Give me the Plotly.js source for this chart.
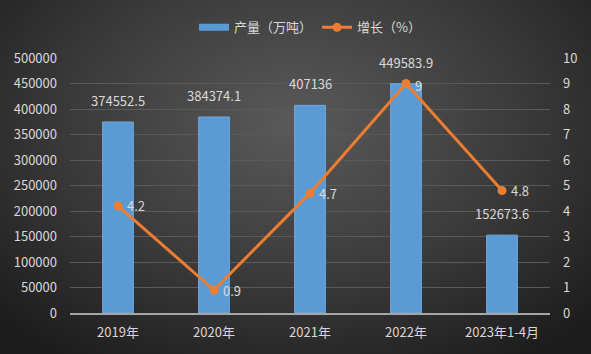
<!DOCTYPE html>
<html><head><meta charset="utf-8">
<script src="https://cdn.plot.ly/plotly-3.0.1.min.js"></script>
<style>
html,body{margin:0;padding:0;}
#c{width:591px;height:354px;background:radial-gradient(ellipse 70% 80% at 50% 35%, #5a5a5a 0%, #3a3a3a 55%, #1c1c1c 100%);}
</style></head>
<body><div id="c"></div>
<script>
const categories = ['2019年','2020年','2021年','2022年','2023年1-4月'];
const output = [374552.5, 384374.1, 407136, 449583.9, 152673.6];
const growth = [4.2, 0.9, 4.7, 9, 4.8];
const outputLabels = ['374552.5','384374.1','407136','449583.9','152673.6'];
const growthLabels = ['4.2','0.9','4.7','9','4.8'];
const leftTicks = [0,50000,100000,150000,200000,250000,300000,350000,400000,450000,500000];
const rightTicks = [0,1,2,3,4,5,6,7,8,9,10];

const font = "'Noto Sans CJK SC', 'Noto Sans', sans-serif";
const txt = '#d9d9d9';
const blue = '#5b9bd5';

const traces = [
  {type:'bar', name:'产量（万吨）', x:categories, y:output, width:0.32,
   marker:{color:blue, line:{color:'#6fa8dc', width:1}}, showlegend:false, hoverinfo:'skip'},
  {type:'scatter', mode:'lines', name:'产量（万吨）', x:[null], y:[null],
   line:{color:blue, width:7}, showlegend:true},
  {type:'scatter', mode:'lines+markers', name:'增长（%）', x:categories, y:growth, yaxis:'y2',
   line:{color:'#ed7d31', width:3}, marker:{color:'#ed7d31', size:9}}
];
const annotations = categories.map((c,i)=>({
  x:c, y:output[i], xref:'x', yref:'y', text:outputLabels[i], showarrow:false,
  yanchor:'bottom', yshift:10, font:{size:13, color:txt, family:font}
})).concat(categories.map((c,i)=>({
  x:c, y:growth[i], xref:'x', yref:'y2', text:growthLabels[i], showarrow:false,
  xanchor:'left', yanchor:'middle', xshift:7, yshift:i===3?-2:0, font:{size:13, color:txt, family:font}
})));
const layout = {
  width:591, height:354,
  paper_bgcolor:'rgba(0,0,0,0)', plot_bgcolor:'rgba(0,0,0,0)',
  margin:{l:70, r:41, t:55, b:41},
  font:{family:font, color:txt, size:13},
  showlegend:true,
  legend:{orientation:'h', x:0.5, xanchor:'center', y:1.12, yanchor:'middle',
    font:{size:13, color:txt, family:font}, bgcolor:'rgba(0,0,0,0)', traceorder:'normal'},
  annotations:annotations,
  xaxis:{type:'category', tickfont:{size:13, color:txt}, showgrid:false,
    showline:true, linecolor:'#a6a6a6', linewidth:2, ticks:'', ticklabelstandoff:6},
  yaxis:{range:[0,500000], tickvals:leftTicks, ticktext:leftTicks.map(String),
    showgrid:true, gridcolor:'#5a5a5a', gridwidth:1, zeroline:false,
    tickfont:{size:13, color:txt}, ticks:'', showline:false, ticklabelstandoff:12},
  yaxis2:{range:[0,10], overlaying:'y', side:'right', tickvals:rightTicks,
    showgrid:false, zeroline:false, tickfont:{size:13, color:txt}, ticks:'', showline:false, ticklabelstandoff:12}
};
Plotly.newPlot('c', traces, layout, {displayModeBar:false, staticPlot:true});
</script></body></html>
